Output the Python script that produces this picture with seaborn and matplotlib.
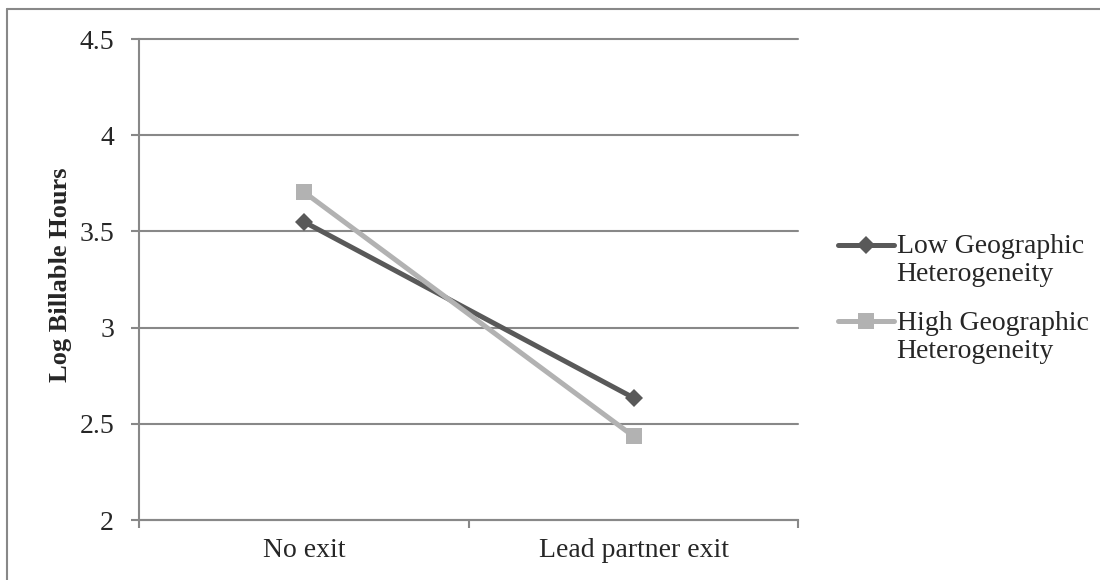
import matplotlib.pyplot as plt
import matplotlib.lines as mlines
from matplotlib.legend_handler import HandlerLine2D
import seaborn as sns
import pandas as pd

conditions = ["No exit", "Lead partner exit"]
low_geo = [3.55, 2.635]
high_geo = [3.705, 2.435]
series_names = ["Low Geographic\nHeterogeneity", "High Geographic\nHeterogeneity"]
y_ticks = [2, 2.5, 3, 3.5, 4, 4.5]

df = pd.DataFrame({
    "condition": conditions * 2,
    "hours": low_geo + high_geo,
    "group": [series_names[0]] * 2 + [series_names[1]] * 2,
})

sns.set_theme(style="white")
plt.rcParams["font.family"] = ["Liberation Serif", "DejaVu Serif"]

fig = plt.figure(figsize=(11, 5.8), dpi=100)
ax = fig.add_axes([0.1264, 0.1034, 0.5995, 0.8293])

colors = {series_names[0]: "#595959", series_names[1]: "#b2b2b2"}
markers = {series_names[0]: "D", series_names[1]: "s"}

sns.lineplot(data=df, x="condition", y="hours", hue="group", style="group",
             palette=colors, markers=markers, dashes=False, linewidth=3.6,
             markersize=11, markeredgewidth=0, ax=ax, legend=False, sort=False)

# diamonds a bit smaller than squares
for line in ax.get_lines():
    if line.get_marker() == "D":
        line.set_markersize(9.5)
    else:
        line.set_markersize(11.5)

ax.set_xlim(-0.5, 1.5)
ax.set_ylim(2, 4.5)
ax.set_yticks(y_ticks)
ax.set_yticklabels(["2", "2.5", "3", "3.5", "4", "4.5"])
ax.set_xticks([0, 1])
ax.set_xticklabels(conditions)
ax.set_xticks([-0.5, 0.5, 1.5], minor=True)
ax.tick_params(axis="x", which="major", length=0, pad=13, labelsize=20)
ax.tick_params(axis="x", which="minor", bottom=True, length=6, width=1.5,
               color="#888888", direction="out")
ax.tick_params(axis="y", left=True, length=6, width=1.5, color="#888888",
               direction="out", pad=12, labelsize=20)
ax.yaxis.grid(True, color="#888888", linewidth=1.5)
for gl in ax.get_ygridlines():
    gl.set_clip_on(False)
ax.set_axisbelow(True)
for s in ["top", "right"]:
    ax.spines[s].set_visible(False)
for s in ["left", "bottom"]:
    ax.spines[s].set_color("#888888")
    ax.spines[s].set_linewidth(1.5)
ax.set_xlabel("")
ax.set_ylabel("Log Billable Hours", fontsize=19, fontweight="bold")
ax.yaxis.set_label_coords(-0.102, 0.51)


class FirstLineHandler(HandlerLine2D):
    # put the legend line level with the first line of a two-line label
    def create_artists(self, legend, orig_handle, xdescent, ydescent, width,
                       height, fontsize, trans):
        return super().create_artists(legend, orig_handle, xdescent, ydescent - 23,
                                      width, height, fontsize, trans)


handles = [mlines.Line2D([], [], color=colors[n], marker=markers[n], linewidth=3.6,
                         markersize=9.5 if markers[n] == "D" else 11.5, markeredgewidth=0)
           for n in series_names]
leg = fig.legend(handles, series_names, loc="center left", bbox_to_anchor=(0.752, 0.484),
                 frameon=False, fontsize=20, handlelength=2.0, handletextpad=0.1,
                 labelspacing=0.85, borderaxespad=0,
                 handler_map={mlines.Line2D: FirstLineHandler()})
for t in leg.get_texts():
    t.set_linespacing(1.16)

# outer chart frame (left and top edges visible)
fig.add_artist(mlines.Line2D([7 / 1100, 7 / 1100], [0, 1 - 9 / 580], color="#888888", linewidth=1.5))
fig.add_artist(mlines.Line2D([7 / 1100, 1], [1 - 9 / 580, 1 - 9 / 580], color="#888888", linewidth=1.5))

fig.savefig("out.png", dpi=100)
